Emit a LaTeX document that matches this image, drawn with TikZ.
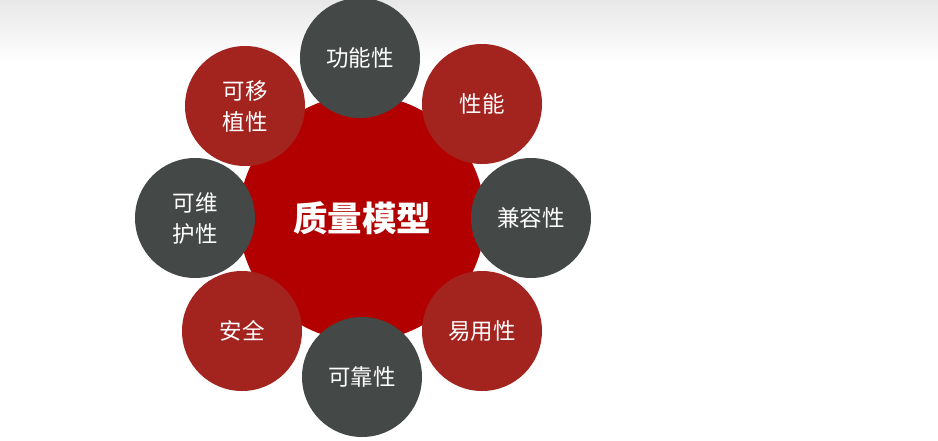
\documentclass[tikz,border=0pt]{standalone}
\usepackage{fontspec}
\newfontfamily\cjk{Noto Sans CJK SC}
\usetikzlibrary{positioning}
\definecolor{hubred}{HTML}{B20000}
\definecolor{petalred}{HTML}{A3231F}
\definecolor{petalgray}{HTML}{444846}

\begin{document}
\begin{tikzpicture}[
      x=1pt, y=-1pt,
      petal/.style={circle, minimum size=120pt, inner sep=0pt, align=center,
                    text=white, font=\cjk\fontsize{22.5}{31}\selectfont},
      redpetal/.style={petal, fill=petalred},
      graypetal/.style={petal, fill=petalgray},
      hub/.style={circle, minimum size=246pt, inner sep=0pt, fill=hubred,
                  text=white, font=\cjk\bfseries\fontsize{34.5}{40}\selectfont},
    ]
    \useasboundingbox (0,0) rectangle (938,440);
    \shade[top color=black!9, bottom color=white] (0,0) rectangle (938,62);
    \node[hub] (hub) at (362,218) {质量模型};
    \node[graypetal] (func) at (360,58) {功能性};
    \node[redpetal] (perf) at (482,104) {性能};
    \node[graypetal] (compat) at (531,218) {兼容性};
    \node[redpetal] (usab) at (482,331) {易用性};
    \node[graypetal] (rel) at (362,377) {可靠性};
    \node[redpetal] (sec) at (242,331) {安全};
    \node[graypetal] (maint) at (195,218) {可维\\护性};
    \node[redpetal] (port) at (245,106) {可移\\植性};
  \end{tikzpicture}
\end{document}
